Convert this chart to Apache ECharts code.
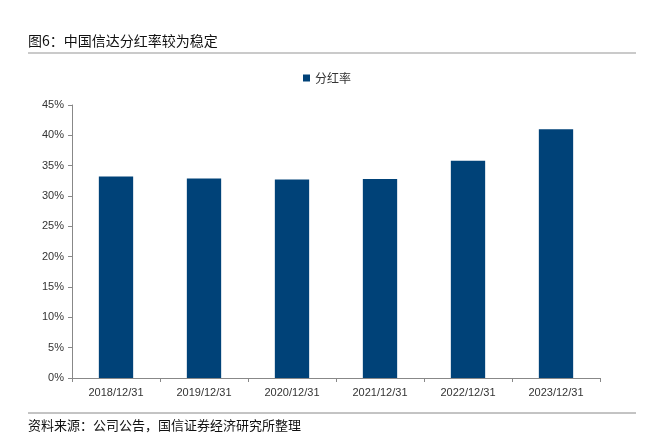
<!DOCTYPE html>
<html><head><meta charset="utf-8">
<script src="https://cdn.jsdelivr.net/npm/echarts@6/dist/echarts.min.js"></script>
<style>html,body{margin:0;padding:0;background:#fff}#c{width:654px;height:434px}</style>
</head><body><div id="c"></div>
<script>
var categories = ['2018/12/31','2019/12/31','2020/12/31','2021/12/31','2022/12/31','2023/12/31'];
var dividendRate = [33.2, 32.9, 32.7, 32.8, 35.8, 41.0];
var seriesName = '分红率';
var titleText = '图6：中国信达分红率较为稳定';
var sourceText = '资料来源：公司公告，国信证券经济研究所整理';

var chart = echarts.init(document.getElementById('c'));
var font = '"Noto Sans CJK SC", "Liberation Sans", sans-serif';
chart.setOption({
  animation: false,
  textStyle: {fontFamily: font},
  legend: {
    data: [seriesName], top: 67, left: 'center',
    itemWidth: 7, itemHeight: 7, itemGap: 4,
    icon: 'rect',
    textStyle: {fontSize: 12, color: '#333', fontFamily: font}
  },
  grid: {left: 72, right: 54, top: 105, bottom: 56},
  xAxis: {
    type: 'category', data: categories,
    axisLine: {lineStyle: {color: '#888'}},
    axisTick: {show: true, alignWithLabel: false, length: 4, lineStyle: {color: '#888'}},
    axisLabel: {color: '#333', fontSize: 11, margin: 9, fontFamily: '"Liberation Sans", Arial, sans-serif'}
  },
  yAxis: {
    type: 'value', min: 0, max: 45, interval: 5,
    axisLine: {show: true, lineStyle: {color: '#888'}},
    axisTick: {show: true, length: 4, lineStyle: {color: '#888'}},
    splitLine: {show: false},
    axisLabel: {color: '#333', fontSize: 11, margin: 8, formatter: '{value}%', fontFamily: '"Liberation Sans", Arial, sans-serif'}
  },
  series: [{
    name: seriesName, type: 'bar', data: dividendRate,
    barWidth: '39%', itemStyle: {color: '#004278'}
  }],
  graphic: [
    {type: 'text', left: 28, top: 34, style: {text: titleText, font: '14px ' + font, fill: '#111'}},
    {type: 'line', shape: {x1: 28, y1: 53, x2: 636, y2: 53}, style: {stroke: '#b8b8b8', lineWidth: 1.5}},
    {type: 'line', shape: {x1: 28, y1: 413, x2: 636, y2: 413}, style: {stroke: '#888', lineWidth: 1}},
    {type: 'text', left: 28, top: 419, style: {text: sourceText, font: '13px ' + font, fill: '#111'}}
  ]
});
</script></body></html>
